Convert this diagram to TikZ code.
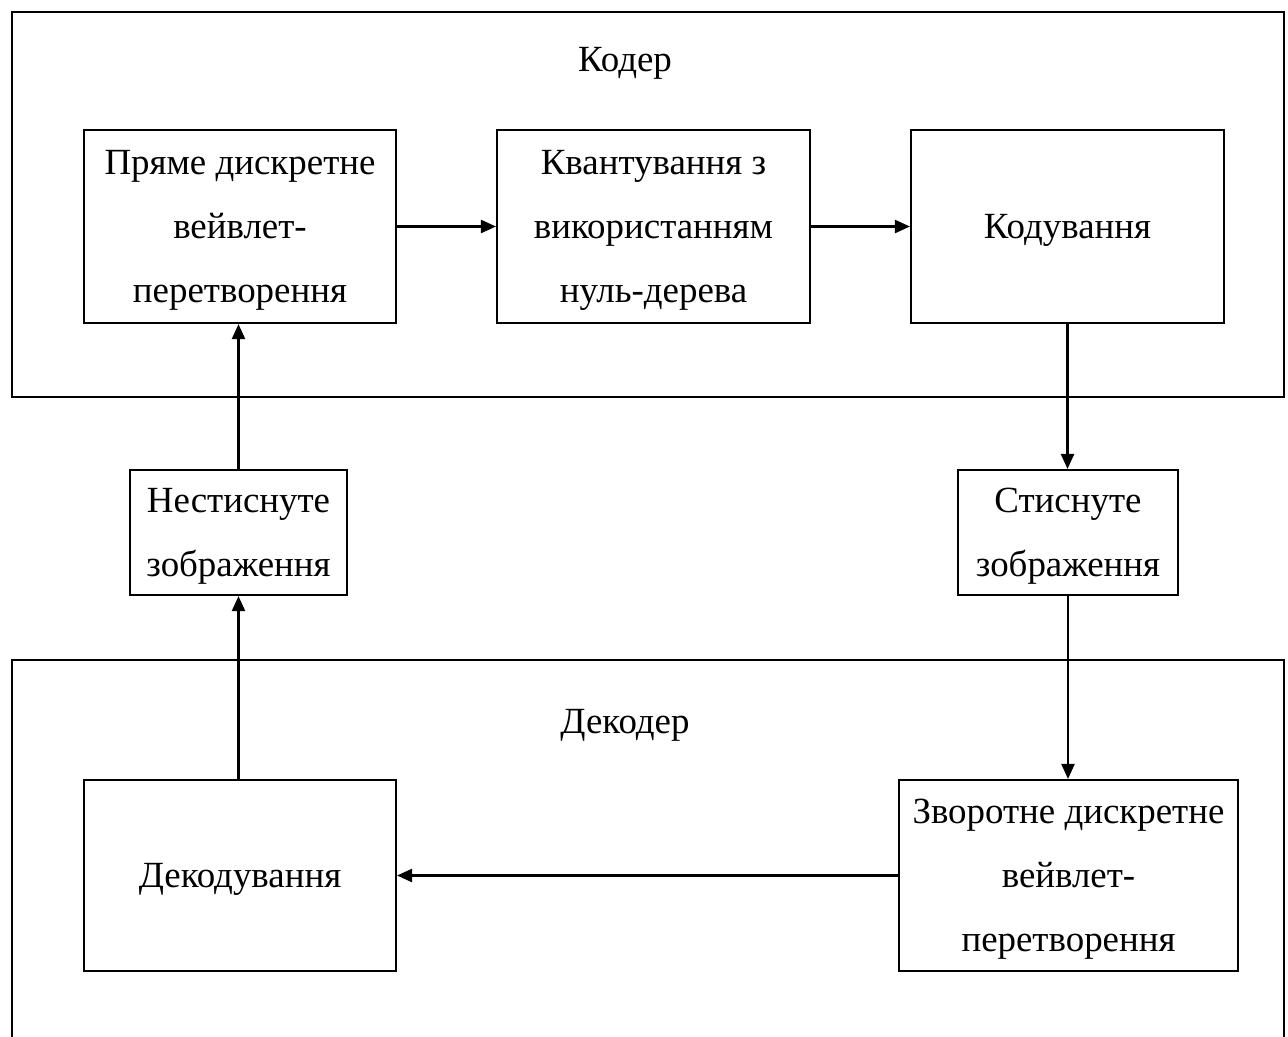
\documentclass[tikz,border=0pt]{standalone}
\usepackage{fontspec}
\setmainfont{Liberation Serif}
\usetikzlibrary{arrows.meta, positioning}

\newcommand{\toprule}{\rule{0pt}{18pt}}

\begin{document}
\begin{tikzpicture}[
  frame/.style={draw, line width=1.2pt},
  block/.style={draw, line width=1.2pt, align=center, inner sep=0pt,
                font=\fontsize{21}{36.5}\selectfont},
  title/.style={font=\fontsize{21}{36.5}\selectfont},
  arrow/.style={-{Triangle[length=0.3cm, width=0.26cm]}, line width=1.3pt}
]
\useasboundingbox (0,0) rectangle (25.76,-20.72);

% outer frames
\draw[frame] (0.24,-0.24) rectangle (25.68,-7.94);
\draw[frame] (0.24,-13.2) rectangle (25.68,-21.2);

\node[title] (coder)   at (12.5,-1.26)  {Кодер};
\node[title] (decoder) at (12.5,-14.5) {Декодер};

% encoder blocks
\node[block, minimum width=6.24cm, minimum height=3.86cm] (dwt) at (4.8,-4.53)
  {\toprule Пряме дискретне\\вейвлет-\\перетворення};
\node[block, minimum width=6.26cm, minimum height=3.86cm] (quant) at (13.07,-4.53)
  {\toprule Квантування з\\використанням\\нуль-дерева};
\node[block, minimum width=6.26cm, minimum height=3.86cm] (encode) at (21.35,-4.53)
  {\toprule Кодування};

% images
\node[block, minimum width=4.34cm, minimum height=2.5cm] (raw) at (4.77,-10.65)
  {\toprule Нестиснуте\\зображення};
\node[block, minimum width=4.4cm, minimum height=2.5cm] (packed) at (21.36,-10.65)
  {\toprule Стиснуте\\зображення};

% decoder blocks
\node[block, minimum width=6.24cm, minimum height=3.82cm] (decode) at (4.8,-17.51)
  {\toprule Декодування};
\node[block, minimum width=6.78cm, minimum height=3.82cm] (idwt) at (21.37,-17.51)
  {\toprule Зворотне дискретне\\вейвлет-\\перетворення};

\draw[arrow] (dwt) -- (quant);
\draw[arrow] (quant) -- (encode);
\draw[arrow] (encode.south) -- (encode.south |- packed.north);
\draw[arrow] (packed.south) -- (packed.south |- idwt.north);
\draw[arrow] (idwt) -- (decode);
\draw[arrow] (decode.north -| raw.south) -- (raw.south);
\draw[arrow] (raw.north) -- (raw.north |- dwt.south);

\end{tikzpicture}
\end{document}
